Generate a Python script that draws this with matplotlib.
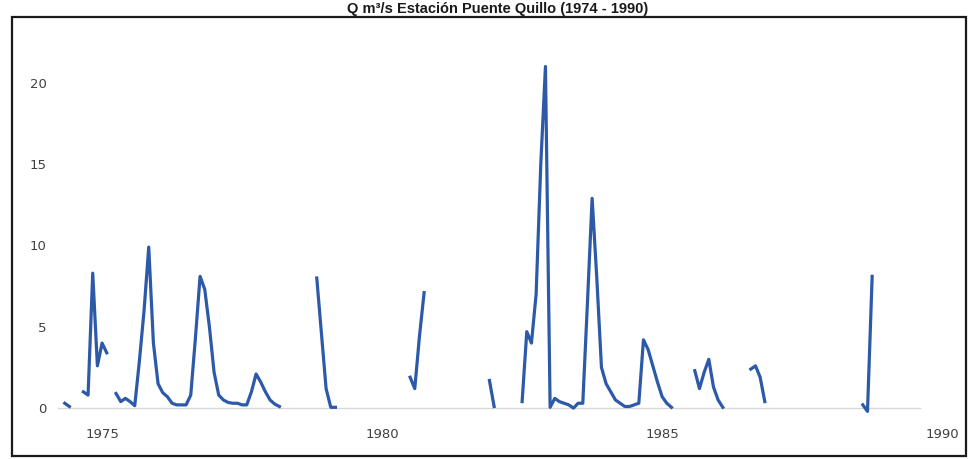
import numpy as np
import pandas as pd
import matplotlib
matplotlib.use("Agg")
import matplotlib.pyplot as plt
from matplotlib.patches import Rectangle

# monthly flow readings, one list per unbroken stretch of record
seg_starts = ["1974-05", "1974-09", "1975-04", "1978-11", "1980-07",
              "1981-12", "1982-07", "1985-08", "1986-08", "1988-08"]
q_a = [0.3, 0.1]
q_b = [1.0, 0.8, 8.3, 2.6, 4.0, 3.4]
q_c = [0.9, 0.4, 0.6, 0.4, 0.15, 2.9, 6.0, 9.9, 4.0, 1.5, 0.95, 0.7,
       0.3, 0.2, 0.2, 0.2, 0.8, 4.3, 8.1, 7.3, 5.0, 2.2, 0.8, 0.5,
       0.35, 0.3, 0.3, 0.2, 0.2, 1.0, 2.1, 1.6, 1.0, 0.5, 0.25, 0.1]
q_d = [8.0, 4.6, 1.2, 0.05, 0.05]
q_e = [1.9, 1.2, 4.4, 7.1]
q_f = [1.7, 0.1]
q_g = [0.4, 4.7, 4.0, 7.0, 15.0, 21.0, 0.05, 0.6, 0.4, 0.3, 0.2, 0.0,
       0.3, 0.3, 6.5, 12.9, 8.0, 2.5, 1.5, 1.0, 0.5, 0.3, 0.1, 0.1,
       0.2, 0.3, 4.2, 3.6, 2.6, 1.6, 0.7, 0.3, 0.05]
q_h = [2.3, 1.2, 2.2, 3.0, 1.3, 0.5, 0.05]
q_i = [2.4, 2.6, 1.9, 0.4]
q_j = [0.2, -0.2, 8.1]
segments = [q_a, q_b, q_c, q_d, q_e, q_f, q_g, q_h, q_i, q_j]

year_ticks = [1975, 1980, 1985, 1990]
y_ticks = [0, 5, 10, 15, 20]

xs, ys = [], []
for start, vals in zip(seg_starts, segments):
    per = pd.period_range(start, periods=len(vals), freq="M")
    t = per.year + (per.month - 1) / 12.0
    xs += list(t) + [np.nan]
    ys += list(vals) + [np.nan]

fig = plt.figure(figsize=(9.69, 4.59), dpi=100)
ax = fig.add_axes([0.0599, 0.1002, 0.9153, 0.8257])

x0, x1 = 1974.214, 1990.05
ax.set_xlim(x0, x1)
ax.set_ylim(-0.3, 23)

ax.axhline(0, xmin=0.0, xmax=(1989.6 - x0) / (x1 - x0), color="#d9d9d9", lw=1, zorder=1)
ax.plot(xs, ys, color="#2c5aa8", lw=2.3, solid_joinstyle="round", zorder=3, clip_on=False)

for s in ax.spines.values():
    s.set_visible(False)
ax.set_xticks(year_ticks)
ax.set_yticks(y_ticks)
ax.tick_params(length=0, labelsize=9.5, labelcolor="#404040")
ax.tick_params(axis="x", pad=11)
ax.tick_params(axis="y", pad=8)

fig.patches.append(Rectangle((12 / 969, 3 / 459), 954 / 969, 439 / 459,
                             transform=fig.transFigure, fill=False,
                             edgecolor="#1a1a1a", lw=1.6))

fig.text(0.514, 1 - 13 / 459, "Q m³/s Estación Puente Quillo (1974 - 1990)",
         ha="center", va="baseline", fontsize=10.5, fontweight="bold",
         family="Liberation Sans", color="#1a1a1a")

fig.savefig("out.png", dpi=100)
